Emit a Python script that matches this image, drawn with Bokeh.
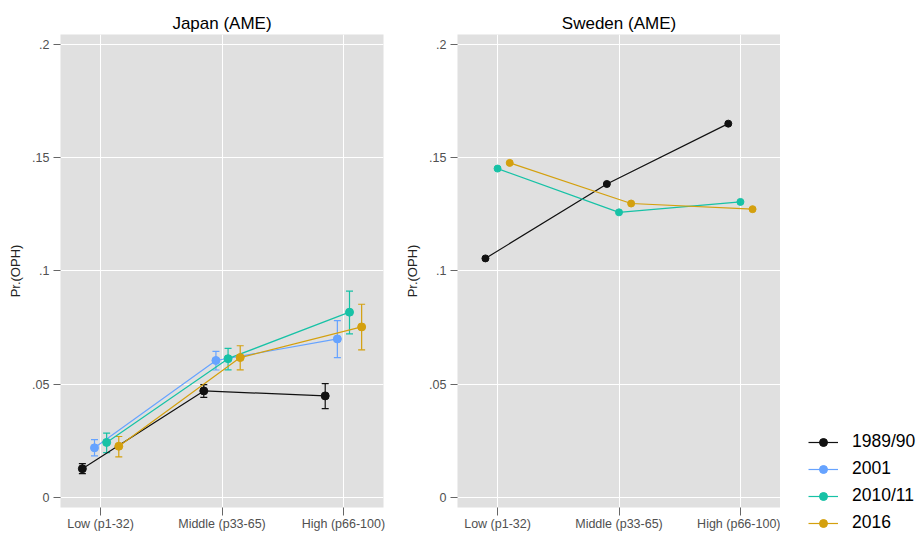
from bokeh.plotting import figure
from bokeh.models import (ColumnDataSource, Range1d, FixedTicker, Whisker, TeeHead,
                          Legend, LegendItem)
from bokeh.layouts import row
from bokeh.embed import file_html
from bokeh.resources import INLINE

# ---------------- data ----------------
categories = ["Low (p1-32)", "Middle (p33-65)", "High (p66-100)"]
y_ticks = [0, 0.05, 0.1, 0.15, 0.2]
y_tick_labels = ["0", ".05", ".1", ".15", ".2"]
series_names = ["1989/90", "2001", "2010/11", "2016"]

# Japan (AME): point estimates and confidence bounds
jp_1989 = [0.0128, 0.0471, 0.0449]
jp_1989_lo = [0.0106, 0.0442, 0.0393]
jp_1989_hi = [0.0150, 0.0499, 0.0503]
jp_2001 = [0.0220, 0.0605, 0.0700]
jp_2001_lo = [0.0185, 0.0563, 0.0618]
jp_2001_hi = [0.0256, 0.0645, 0.0781]
jp_2010 = [0.0244, 0.0613, 0.0818]
jp_2010_lo = [0.0199, 0.0564, 0.0722]
jp_2010_hi = [0.0285, 0.0658, 0.0911]
jp_2016 = [0.0227, 0.0618, 0.0753]
jp_2016_lo = [0.0180, 0.0564, 0.0652]
jp_2016_hi = [0.0270, 0.0670, 0.0853]

# Sweden (AME): point estimates
se_1989 = [0.1055, 0.1383, 0.1649]
se_2010 = [0.1451, 0.1258, 0.1304]
se_2016 = [0.1476, 0.1297, 0.1272]

# ---------------- style ----------------
COLORS = {"1989/90": "#111111", "2001": "#66A3FF", "2010/11": "#17C2A6", "2016": "#D4A00E"}
FONT = "Liberation Sans"
BG = "#E0E0E0"

label_map = {i + 1: c for i, c in enumerate(categories)}
ylab_map = {t: l for t, l in zip(y_ticks, y_tick_labels)}


def make_fig(title, width, left, right):
    p = figure(width=width, height=533, output_backend="svg", toolbar_location=None,
               x_range=Range1d(0.67, 3.33), y_range=Range1d(-0.0043, 0.2042),
               min_border_left=left, min_border_right=right,
               min_border_top=34, min_border_bottom=25, title=title)
    p.background_fill_color = BG
    p.border_fill_color = "white"
    p.outline_line_color = None
    p.title.align = "center"
    p.title.text_font = FONT
    p.title.text_font_size = "17px"
    p.title.text_font_style = "normal"
    p.title.text_color = "#000000"
    p.title.standoff = 4

    p.xaxis.ticker = FixedTicker(ticks=list(label_map.keys()))
    p.xaxis.major_label_overrides = label_map
    p.yaxis.ticker = FixedTicker(ticks=y_ticks)
    p.yaxis.major_label_overrides = ylab_map
    for ax in (p.xaxis[0], p.yaxis[0]):
        ax.axis_line_color = None
        ax.major_tick_in = 0
        ax.minor_tick_line_color = None
        ax.major_tick_line_color = "#666666"
        ax.major_label_text_font = FONT
        ax.major_label_text_font_size = "12.5px"
        ax.major_label_text_color = "#505050"
    p.xaxis.major_tick_out = 8
    p.xaxis.major_label_standoff = 1
    p.yaxis.major_tick_out = 7
    p.yaxis.major_label_standoff = 4
    p.yaxis.axis_label = "Pr.(OPH)"
    p.yaxis.axis_label_text_font = FONT
    p.yaxis.axis_label_text_font_size = "13px"
    p.yaxis.axis_label_text_font_style = "normal"
    p.yaxis.axis_label_text_color = "#222222"
    p.yaxis.axis_label_standoff = 6

    p.grid.grid_line_color = "white"
    p.grid.grid_line_width = 1
    return p


def draw(p, name, vals, offset, lo=None, hi=None, size=8):
    xs = [i + 1 + offset for i in range(len(vals))]
    data = dict(x=xs, y=vals)
    if lo is not None:
        data["lo"] = lo
        data["hi"] = hi
    src = ColumnDataSource(data)
    col = COLORS[name]
    if lo is not None:
        w = Whisker(source=src, base="x", lower="lo", upper="hi", dimension="height",
                    line_color=col, line_width=1.2,
                    upper_head=TeeHead(size=7, line_color=col, line_width=1.2),
                    lower_head=TeeHead(size=7, line_color=col, line_width=1.2))
        p.add_layout(w)
    ln = p.line("x", "y", source=src, line_color=col, line_width=1.2)
    sc = p.scatter("x", "y", source=src, size=size, fill_color=col, line_color=col)
    return ln, sc


# ---------------- Japan ----------------
p1 = make_fig("Japan (AME)", 400, 60, 17)
jp = [("1989/90", jp_1989, jp_1989_lo, jp_1989_hi),
      ("2001", jp_2001, jp_2001_lo, jp_2001_hi),
      ("2010/11", jp_2010, jp_2010_lo, jp_2010_hi),
      ("2016", jp_2016, jp_2016_lo, jp_2016_hi)]
jp_offsets = [-0.15, -0.05, 0.05, 0.15]
for (name, v, lo, hi), off in zip(jp, jp_offsets):
    draw(p1, name, v, off, lo, hi, size=8)

# ---------------- Sweden ----------------
p2 = make_fig("Sweden (AME)", 380, 57, 0)
se = [("1989/90", se_1989), ("2010/11", se_2010), ("2016", se_2016)]
se_offsets = [-0.1, 0.0, 0.1]
for (name, v), off in zip(se, se_offsets):
    draw(p2, name, v, off, size=7)

# ---------------- legend panel ----------------
p3 = figure(width=141, height=533, output_backend="svg", toolbar_location=None,
            x_range=Range1d(0, 1), y_range=Range1d(0, 1),
            x_axis_location=None, y_axis_location=None,
            min_border=0, min_border_left=0, min_border_right=0,
            min_border_top=0, min_border_bottom=0)
p3.frame_align = False
p3.grid.visible = False
p3.outline_line_color = None
p3.background_fill_color = "white"
p3.border_fill_color = "white"
nan_src = ColumnDataSource(dict(x=[float("nan")], y=[float("nan")]))
items = []
for name in series_names:
    col = COLORS[name]
    l = p3.line("x", "y", source=nan_src, line_color=col, line_width=1.2)
    s = p3.scatter("x", "y", source=nan_src, size=8, fill_color=col, line_color=col)
    items.append(LegendItem(label=name, renderers=[l, s]))

legend = Legend(items=items, location=(28, 0), orientation="vertical")
legend.label_text_font = FONT
legend.label_text_font_size = "17.5px"
legend.label_text_color = "#000000"
legend.glyph_width = 30
legend.glyph_height = 20
legend.label_standoff = 14
legend.spacing = 6
legend.padding = 0
legend.margin = 0
legend.border_line_color = None
legend.background_fill_color = None
legend.background_fill_alpha = 0
p3.add_layout(legend)

layout = row(p1, p2, p3)
open("out.html", "w").write(file_html(layout, INLINE))
